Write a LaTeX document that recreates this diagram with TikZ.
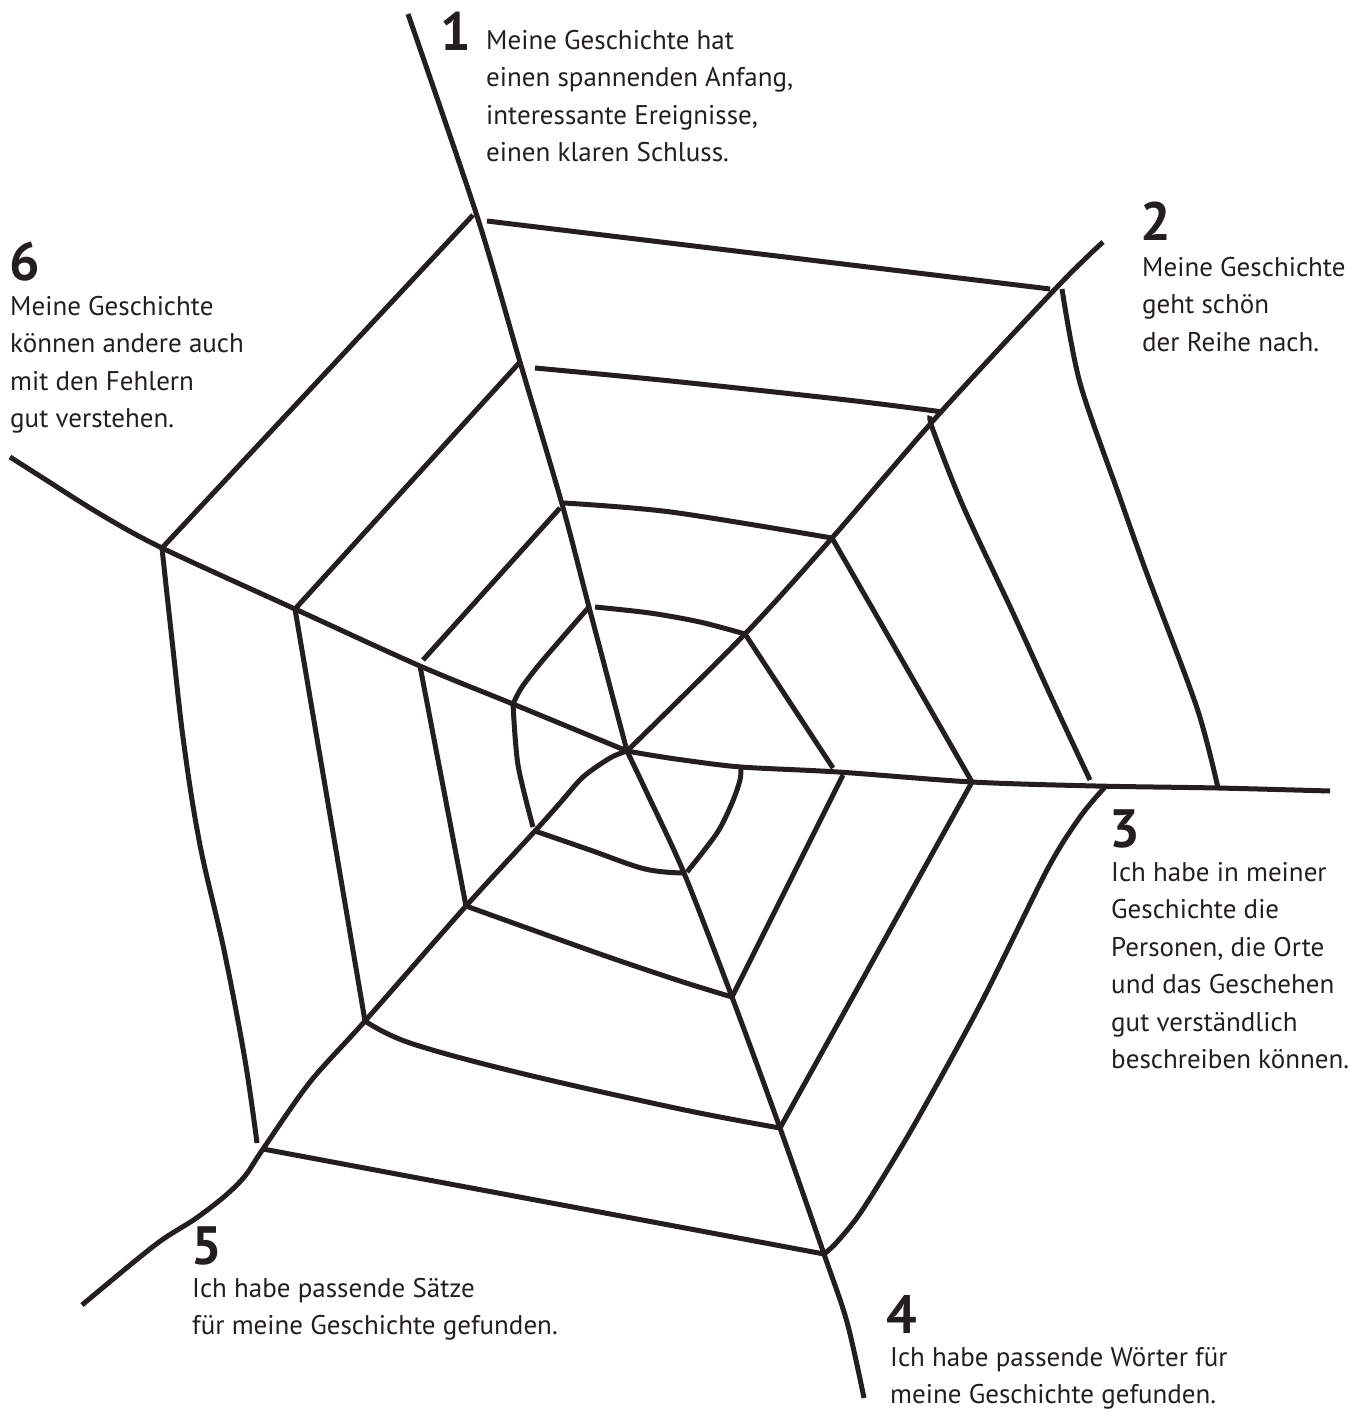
\documentclass[tikz,border=0pt]{standalone}
\usepackage{fontspec}
\setmainfont{PT Sans}
\definecolor{ink}{HTML}{231F20}
\begin{document}
\begin{tikzpicture}[x=1pt,y=-1pt,
web/.style={draw=ink, line width=5pt, line join=round},
num/.style={anchor=north west, inner sep=0pt, text=ink, font=\fontsize{54}{54}\selectfont\bfseries},
txt/.style={anchor=north west, inner sep=0pt, align=left, text=ink, font=\fontsize{27}{37.5}\selectfont}]
\useasboundingbox (0,0) rectangle (1367,1416);
% junctions: s<spoke>r<ring>
\coordinate (c) at (627,751);
\coordinate (s1r1) at (589,607); \coordinate (s1r2) at (562,504); \coordinate (s1r3) at (520,362); \coordinate (s1r4) at (477,216); \coordinate (s1e) at (408,14);
\coordinate (s2r1) at (745,634); \coordinate (s2r2) at (832,538); \coordinate (s2r3) at (940,413); \coordinate (s2r4) at (1058,286); \coordinate (s2e) at (1103,242);
\coordinate (s3r1) at (741,767); \coordinate (s3r2) at (838,772); \coordinate (s3r3) at (972,782); \coordinate (s3r4) at (1096,786); \coordinate (s3r5) at (1218,788); \coordinate (s3e) at (1330,791);
\coordinate (s4r1) at (684,873); \coordinate (s4r2) at (732,997); \coordinate (s4r3) at (780,1128); \coordinate (s4r4) at (824,1254); \coordinate (s4e) at (864,1398);
\coordinate (s5r1) at (535,831); \coordinate (s5r2) at (466,906); \coordinate (s5r3) at (365,1021); \coordinate (s5r4) at (263,1149); \coordinate (s5e) at (82,1305);
\coordinate (s6r1) at (513,704); \coordinate (s6r2) at (420,666); \coordinate (s6r3) at (295,609); \coordinate (s6r4) at (162,548); \coordinate (s6e) at (10,457);

% spokes
\draw[web] plot[smooth,tension=.5] coordinates {(c) (s1r1) (s1r2) (s1r3) (s1r4) (s1e)};
\draw[web] plot[smooth,tension=.5] coordinates {(c) (s2r1) (s2r2) (s2r3) (s2r4) (s2e)};
\draw[web] plot[smooth,tension=.5] coordinates {(c) (650,755) (683,760) (s3r1) (s3r2) (s3r3) (s3r4) (s3r5) (s3e)};
\draw[web] plot[smooth,tension=.5] coordinates {(c) (647,793) (s4r1) (s4r2) (s4r3) (s4r4) (847,1322) (s4e)};
\draw[web] plot[smooth,tension=.5] coordinates {(c) (610,758) (583,777) (560,803) (s5r1) (s5r2) (s5r3) (310,1082) (s5r4) (245,1176) (225,1196) (195,1219) (155,1245) (s5e)};
\draw[web] plot[smooth,tension=.5] coordinates {(c) (s6r1) (s6r2) (s6r3) (s6r4) (100,514) (43,478) (s6e)};

% ring 1
\draw[web] plot[smooth,tension=.5] coordinates {(595,607) (650,613) (700,622) (s2r1)};
\draw[web] (s2r1) -- (833,768);
\draw[web] plot[smooth,tension=.5] coordinates {(s3r1) (740,780) (732,803) (717,833) (687,872)};
\draw[web] plot[smooth,tension=.6] coordinates {(s4r1) (645,869) (590,850) (s5r1)};
\draw[web] plot[smooth,tension=.5] coordinates {(533,827) (518,765) (s6r1)};
\draw[web] plot[smooth,tension=.5] coordinates {(s6r1) (522,687) (543,660) (s1r1)};
% ring 2
\draw[web] plot[smooth,tension=.5] coordinates {(564,503) (671,512) (s2r2)};
\draw[web] (s2r2) -- (s3r3);
\draw[web] (843,775) -- (s4r2);
\draw[web] plot[smooth,tension=.5] coordinates {(s4r2) (680,981) (600,954) (s5r2)};
\draw[web] (s5r2) -- (s6r2);
\draw[web] (423,660) -- (560,508);
% ring 3
\draw[web] plot[smooth,tension=.5] coordinates {(535,368) (671,381) (847,400) (943,412)};
\draw[web] plot[smooth,tension=.5] coordinates {(930,416) (933,430) (963,506) (1013,613) (1053,701) (1090,780)};
\draw[web] (s3r3) -- (s4r3);
\draw[web] plot[smooth,tension=.6] coordinates {(s4r3) (680,1109) (520,1073) (410,1043) (s5r3)};
\draw[web] (s5r3) -- (s6r3);
\draw[web] (s6r3) -- (s1r3);
% ring 4
\draw[web] (487,221) -- (1050,289);
\draw[web] plot[smooth,tension=.5] coordinates {(1062,289) (1080,383) (1120,498) (1147,574) (1197,708) (s3r5)};
\draw[web] plot[smooth,tension=.5] coordinates {(1105,787) (1080,817) (1047,870) (980,1005) (913,1127) (863,1209) (837,1242) (s4r4)};
\draw[web] (s4r4) -- (s5r4);
\draw[web] plot[smooth,tension=.6] coordinates {(257,1143) (245,1060) (224,950) (200,845) (184,745) (172,640) (s6r4)};
\draw[web] (s6r4) -- (473,215);

% labels
\foreach \n/\x/\y in {1/440/12, 2/1140/202, 3/1109/809, 4/886/1295, 5/191/1226, 6/9/242}
  \node[num] (num\n) at (\x,\y) {\n};
\node[txt] (txt1) at (486,30) {Meine Geschichte hat\\einen spannenden Anfang,\\interessante Ereignisse,\\einen klaren Schluss.};
\node[txt] (txt2) at (1142,257) {Meine Geschichte\\geht schön\\der Reihe nach.};
\node[txt] (txt3) at (1111,862) {Ich habe in meiner\\Geschichte die\\Personen, die Orte\\und das Geschehen\\gut verständlich\\beschreiben können.};
\node[txt] (txt4) at (890,1347) {Ich habe passende Wörter für\\meine Geschichte gefunden.};
\node[txt] (txt5) at (192,1278) {Ich habe passende Sätze\\für meine Geschichte gefunden.};
\node[txt] (txt6) at (10,296) {Meine Geschichte\\können andere auch\\mit den Fehlern\\gut verstehen.};
\end{tikzpicture}
\end{document}
